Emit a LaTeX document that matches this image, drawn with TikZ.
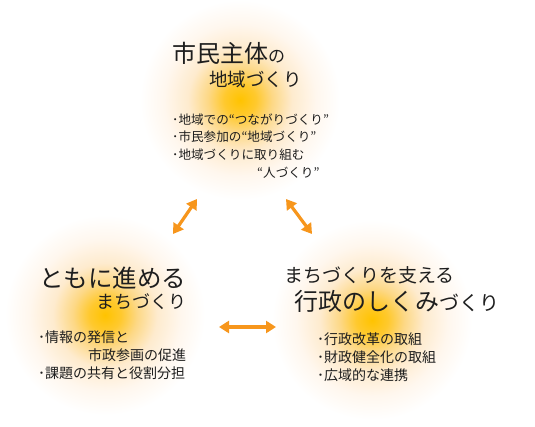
\documentclass[tikz,border=0pt]{standalone}
\usepackage{fontspec}
\setmainfont{Noto Sans CJK JP}
\usetikzlibrary{arrows.meta}
\definecolor{gcore}{HTML}{FFC300}
\definecolor{gone}{HTML}{FFC92E}
\definecolor{gtwo}{HTML}{FDD885}
\definecolor{gthree}{HTML}{FEEBCE}
\definecolor{gfour}{HTML}{FFF7EE}
\definecolor{arrowor}{HTML}{F7961C}
\definecolor{ink}{HTML}{1E1E1E}
\pgfdeclareradialshading{glow}{\pgfpoint{0bp}{0bp}}{%
  color(0bp)=(gcore); color(4bp)=(gone); color(8bp)=(gtwo);
  color(13bp)=(gthree); color(19bp)=(gfour); color(25bp)=(white); color(50bp)=(white)}
\newcommand{\fs}[1]{\fontsize{#1}{#1}\selectfont}
\tikzset{
  glowdisc/.style={circle, minimum size=200pt, inner sep=0pt, shading=glow},
  txt/.style={anchor=west, inner sep=0pt, text=ink},
  biarrow/.style={draw=arrowor, line width=3.2pt,
    {Triangle[length=10pt,width=12pt]}-{Triangle[length=10pt,width=12pt]}}
}
\begin{document}
\begin{tikzpicture}[x=1pt,y=-1pt]
\useasboundingbox[fill=white] (0,0) rectangle (535,427);
% glows
\node[glowdisc] (gtop) at (240,100) {};
\node[glowdisc] (gleft) at (105,315) {};
\node[glowdisc] (gright) at (372,320) {};
% top block
\node[txt] (t1) at (172,53) {\fs{24}市民主体{\fs{17}の}};
\node[txt] (t2) at (209,79) {\fs{18.5}地域づくり};
\node[txt] (t3) at (172,120) {\fs{12.6}･地域での“つながりづくり”};
\node[txt] (t4) at (172,137) {\fs{12.6}･市民参加の“地域づくり”};
\node[txt] (t5) at (172,155) {\fs{12.6}･地域づくりに取り組む};
\node[txt] (t6) at (257,173) {\fs{12.6}“人づくり”};
% left block
\node[txt] (l1) at (39,278) {\fs{24.5}ともに進める};
\node[txt] (l2) at (96,302) {\fs{18}まちづくり};
\node[txt] (l3) at (38,337) {\fs{14}･情報の発信と};
\node[txt] (l4) at (88,355) {\fs{14}市政参画の促進};
\node[txt] (l5) at (38,373) {\fs{14}･課題の共有と役割分担};
% right block
\node[txt] (r1) at (284,275) {\fs{19}まちづくりを支える};
\node[txt] (r2) at (294,301) {\fs{24}行政のしくみ{\fs{20}づくり}};
\node[txt] (r3) at (317,339) {\fs{14}･行政改革の取組};
\node[txt] (r4) at (317,357) {\fs{14}･財政健全化の取組};
\node[txt] (r5) at (317,375) {\fs{14}･広域的な連携};
% arrows
\coordinate (a1s) at (197,199);
\coordinate (a1e) at (173,234);
\coordinate (a2s) at (286,199);
\coordinate (a2e) at (312,234);
\coordinate (a3s) at (219,327);
\coordinate (a3e) at (276,327);
\draw[biarrow] (a1s) -- (a1e);
\draw[biarrow] (a2s) -- (a2e);
\draw[biarrow] (a3s) -- (a3e);
\end{tikzpicture}
\end{document}
